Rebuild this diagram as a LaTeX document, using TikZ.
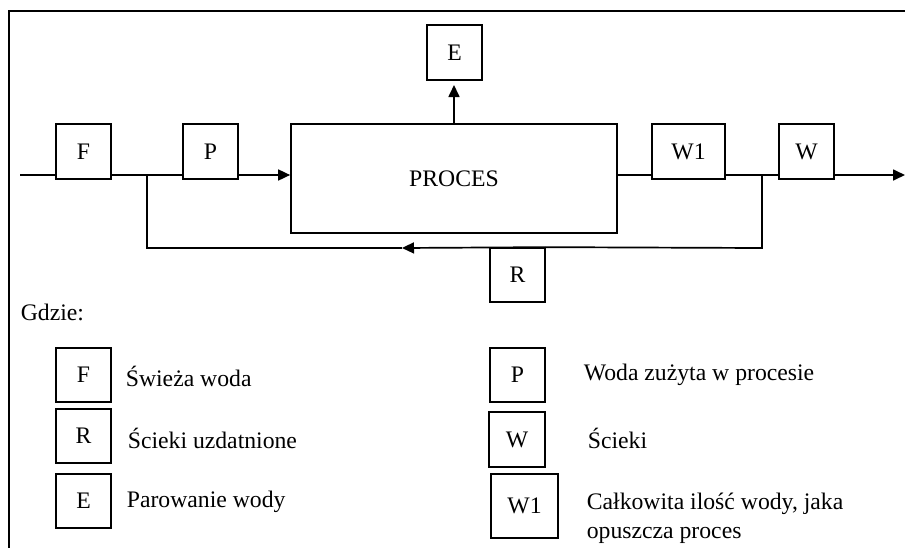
\documentclass[tikz,border=0pt]{standalone}
\usepackage{fontspec}
\setmainfont{Liberation Serif}
\usetikzlibrary{arrows.meta}
\begin{document}
\begin{tikzpicture}[x=1pt,y=-1pt,
  line width=1.7pt,
  font=\fontsize{23.7}{29}\selectfont,
  box/.style={draw, line width=1.7pt, inner sep=0pt, minimum width=55pt, minimum height=55pt},
  lbl/.style={anchor=west, inner sep=0pt, align=left},
  tip/.style={-{Triangle[length=12pt,width=11pt]}}]
\useasboundingbox (0,0) rectangle (905,547);
\fill[white] (0,0) rectangle (905,547);
% frame (cropped on right and bottom)
\coordinate (fr1) at (9,548);
\coordinate (fr2) at (9,11);
\coordinate (fr3) at (906,11);
\draw (fr1) -- (fr2) -- (fr3);
% diagram nodes
\node[box] (F) at (83.5,151.5) {F};
\node[box] (P) at (210.5,151.5) {P};
\node[box, minimum width=326pt, minimum height=109pt] (PR) at (454,178.5) {PROCES};
\node[box] (E) at (454.5,52.5) {E};
\node[box, minimum width=73pt] (W1) at (688.5,151.5) {W1};
\node[box] (W) at (806.5,151.5) {W};
\node[box, minimum height=54pt] (R) at (517.5,275) {R};
% connector points
\coordinate (in) at (20,175);
\coordinate (out) at (905,175);
\coordinate (j1) at (147,175);
\coordinate (j1b) at (147,248);
\coordinate (j2) at (762,175);
\coordinate (j2b) at (762,248);
\coordinate (rtip) at (402,248);
\coordinate (etip) at (454,85);
% main flow
\draw (in) -- (in -| F.west);
\draw (F.east |- in) -- (P.west |- in);
\draw[tip] (P.east |- in) -- (PR.west |- in);
\draw (PR.east |- in) -- (W1.west |- in);
\draw (W1.east |- in) -- (W.west |- in);
\draw[tip] (W.east |- in) -- (out);
% evaporation
\draw[tip] (PR.north -| etip) -- (etip);
% recycle loop
\draw (j2) -- (j2b) -- (R.north east);
\draw[tip] (R.north east) -- (rtip);
\draw (rtip) -- (j1b) -- (j1);
% legend
\node[lbl] (gdzie) at (20,312) {Gdzie:};
\node[box, minimum height=54pt] (LF) at (83.5,375) {F};
\node[box, minimum height=54pt] (LR) at (83.5,436) {R};
\node[box, minimum height=54pt] (LE) at (83.5,501) {E};
\node[lbl] (tF) at (125,376) {Świeża woda};
\node[lbl] (tR) at (127,438) {Ścieki uzdatnione};
\node[lbl] (tE) at (126,502) {Parowanie wody};
\node[box, minimum height=54pt] (LP) at (517.5,375) {P};
\node[box, minimum width=56pt] (LW) at (517,439.5) {W};
\node[box, minimum width=67pt, minimum height=64pt] (LW1) at (524.5,506) {W1};
\node[lbl] (tP) at (583,375) {Woda zużyta w procesie};
\node[lbl] (tW) at (587,438) {Ścieki};
\node[lbl, align=left] (tW1) at (586,518) {Całkowita ilość wody, jaka\\opuszcza proces};
\end{tikzpicture}
\end{document}
